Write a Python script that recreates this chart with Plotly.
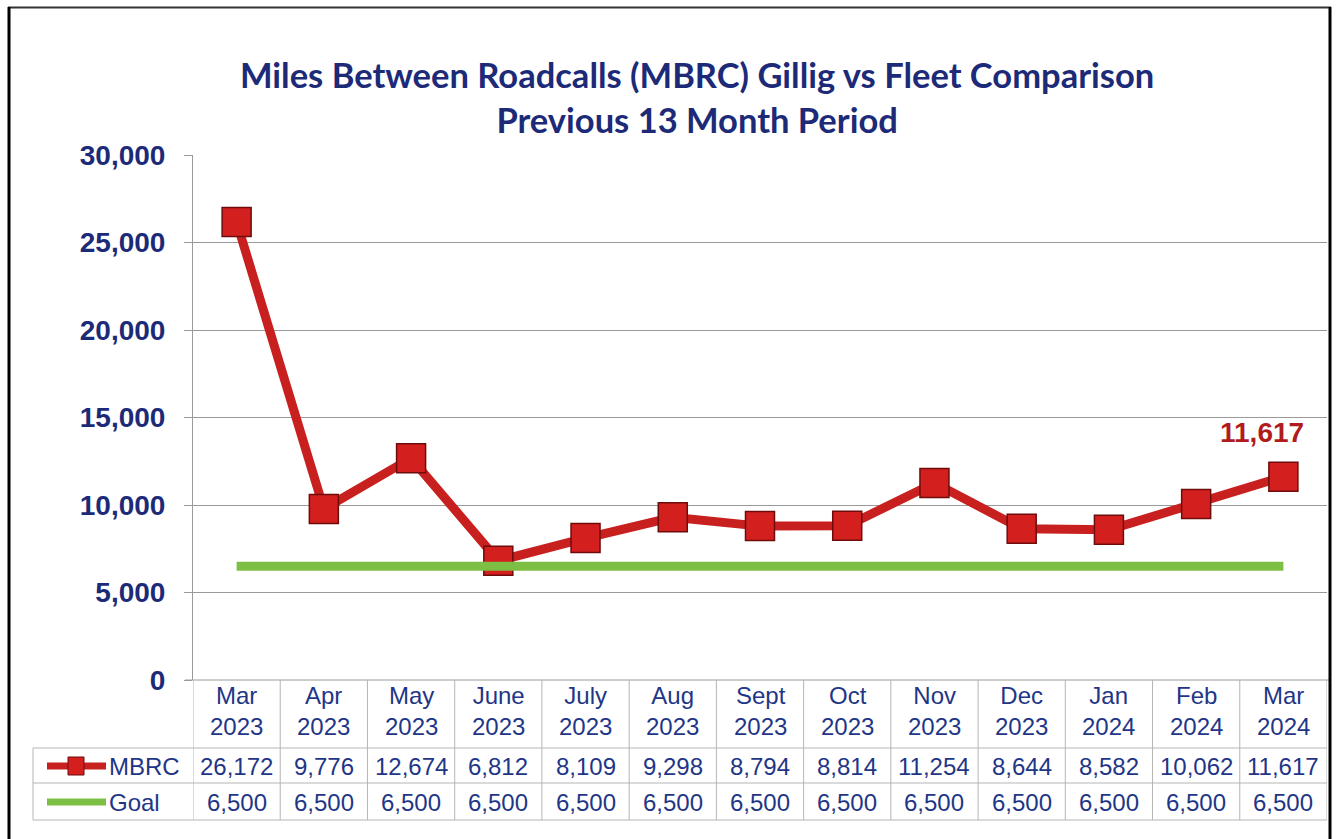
import plotly.graph_objects as go

months = ["Mar<br>2023", "Apr<br>2023", "May<br>2023", "June<br>2023", "July<br>2023",
          "Aug<br>2023", "Sept<br>2023", "Oct<br>2023", "Nov<br>2023", "Dec<br>2023",
          "Jan<br>2024", "Feb<br>2024", "Mar<br>2024"]
mbrc = [26172, 9776, 12674, 6812, 8109, 9298, 8794, 8814, 11254, 8644, 8582, 10062, 11617]
goal = [6500] * 13
y_ticks = [0, 5000, 10000, 15000, 20000, 25000, 30000]

W, H = 1338, 839
NAVY = "#1c2a78"
TXT = "#1f3687"
RED = "#c8201f"
GREEN = "#7dbf45"
GRID = "#9a9a9a"


def px(x):
    return x / W


def py(y):
    return 1 - y / H


xs = list(range(len(months)))

fig = go.Figure()
fig.add_trace(go.Scatter(
    x=xs, y=mbrc, mode="lines+markers", name="MBRC",
    line=dict(color=RED, width=9),
    marker=dict(symbol="square", size=29, color="#d41f1f",
                line=dict(color="#6e0c0c", width=1.5)),
    hoverinfo="skip", showlegend=False))
fig.add_trace(go.Scatter(
    x=xs, y=goal, mode="lines", name="Goal",
    line=dict(color=GREEN, width=9),
    hoverinfo="skip", showlegend=False))

x0d, x1d = px(193), px(1327)
y0d, y1d = py(680), py(155)

fig.update_layout(
    width=W, height=H,
    margin=dict(l=0, r=0, t=0, b=0, autoexpand=False),
    paper_bgcolor="white", plot_bgcolor="white",
    font=dict(family="Arial, Liberation Sans", color=TXT),
    xaxis=dict(domain=[x0d, x1d], range=[-0.5, len(months) - 0.5],
               showticklabels=False, showgrid=False, zeroline=False,
               showline=False, ticks="", automargin=False),
    yaxis=dict(domain=[y0d, y1d], range=[0, 30000], tickvals=y_ticks,
               tickformat=",", showgrid=True, gridcolor=GRID, gridwidth=1,
               zeroline=False, showline=True, linecolor=GRID, linewidth=1,
               ticks="outside", ticklen=8, tickcolor=GRID,
               ticklabelstandoff=13, automargin=False,
               tickfont=dict(family="Arial, Liberation Sans", size=28,
                             color=NAVY, weight="bold")),
    showlegend=False,
)

shapes = []
# bottom axis line (category axis)
shapes.append(dict(type="line", xref="paper", yref="paper", x0=px(185), x1=px(1330),
                   y0=py(680), y1=py(680), line=dict(color=GRID, width=1)))
# table horizontal lines
for yy in [748, 783, 820]:
    shapes.append(dict(type="line", xref="paper", yref="paper", x0=px(33), x1=px(1327),
                       y0=py(yy), y1=py(yy), line=dict(color="#b5b5b5", width=1)))
# table vertical lines
shapes.append(dict(type="line", xref="paper", yref="paper", x0=px(33), x1=px(33),
                   y0=py(748), y1=py(820), line=dict(color="#b5b5b5", width=1)))
for i in range(len(months) + 1):
    shapes.append(dict(type="line", xref="x", yref="paper", x0=i - 0.5, x1=i - 0.5,
                       y0=py(680), y1=py(820), line=dict(color="#b5b5b5", width=1)))
# outer frame (top, left, right)
shapes.append(dict(type="line", xref="paper", yref="paper", x0=px(8), x1=px(1331),
                   y0=py(7.5), y1=py(7.5), line=dict(color="#333333", width=2)))
shapes.append(dict(type="line", xref="paper", yref="paper", x0=px(9), x1=px(9),
                   y0=py(7), y1=py(839), line=dict(color="black", width=3)))
shapes.append(dict(type="line", xref="paper", yref="paper", x0=px(1330), x1=px(1330),
                   y0=py(7), y1=py(839), line=dict(color="black", width=3)))
# legend keys in table
shapes.append(dict(type="line", xref="paper", yref="paper", x0=px(47), x1=px(106),
                   y0=py(766), y1=py(766), line=dict(color=RED, width=7)))
shapes.append(dict(type="rect", xref="paper", yref="paper", x0=px(68), x1=px(84),
                   y0=py(775), y1=py(757), fillcolor="#d41f1f",
                   line=dict(color="#6e0c0c", width=1)))
shapes.append(dict(type="line", xref="paper", yref="paper", x0=px(47), x1=px(106),
                   y0=py(802), y1=py(802), line=dict(color=GREEN, width=7)))
fig.update_layout(shapes=shapes)

ann = []
ann.append(dict(text="Miles Between Roadcalls (MBRC) Gillig vs Fleet Comparison<br>Previous 13 Month Period",
                xref="paper", yref="paper", x=px(697), y=py(97), showarrow=False,
                xanchor="center", yanchor="middle",
                font=dict(family="Lato, Arial", size=34.5, color=NAVY, weight="bold")))
for i, m in enumerate(months):
    ann.append(dict(text=m, xref="x", yref="paper", x=i, y=py(711), showarrow=False,
                    xanchor="center", yanchor="middle",
                    font=dict(size=24, color=TXT)))
    ann.append(dict(text=f"{mbrc[i]:,}", xref="x", yref="paper", x=i, y=py(766),
                    showarrow=False, xanchor="center", yanchor="middle",
                    font=dict(size=24, color=TXT)))
    ann.append(dict(text=f"{goal[i]:,}", xref="x", yref="paper", x=i, y=py(802),
                    showarrow=False, xanchor="center", yanchor="middle",
                    font=dict(size=24, color=TXT)))
ann.append(dict(text="MBRC", xref="paper", yref="paper", x=px(107), y=py(766),
                showarrow=False, xanchor="left", yanchor="middle",
                font=dict(size=24, color=TXT)))
ann.append(dict(text="Goal", xref="paper", yref="paper", x=px(107), y=py(802),
                showarrow=False, xanchor="left", yanchor="middle",
                font=dict(size=24, color=TXT)))
# data label for last point
last = len(mbrc) - 1
ann.append(dict(text=f"{mbrc[last]:,}", xref="x", yref="y", x=last, y=mbrc[last],
                showarrow=False, xanchor="center", yanchor="bottom", xshift=-21, yshift=27,
                font=dict(size=28, color="#b01c1c", weight="bold")))
fig.update_layout(annotations=ann)

fig.write_html("out.html", config={"displayModeBar": False},
               post_script="document.body.style.margin='0';document.body.style.overflow='hidden';")
